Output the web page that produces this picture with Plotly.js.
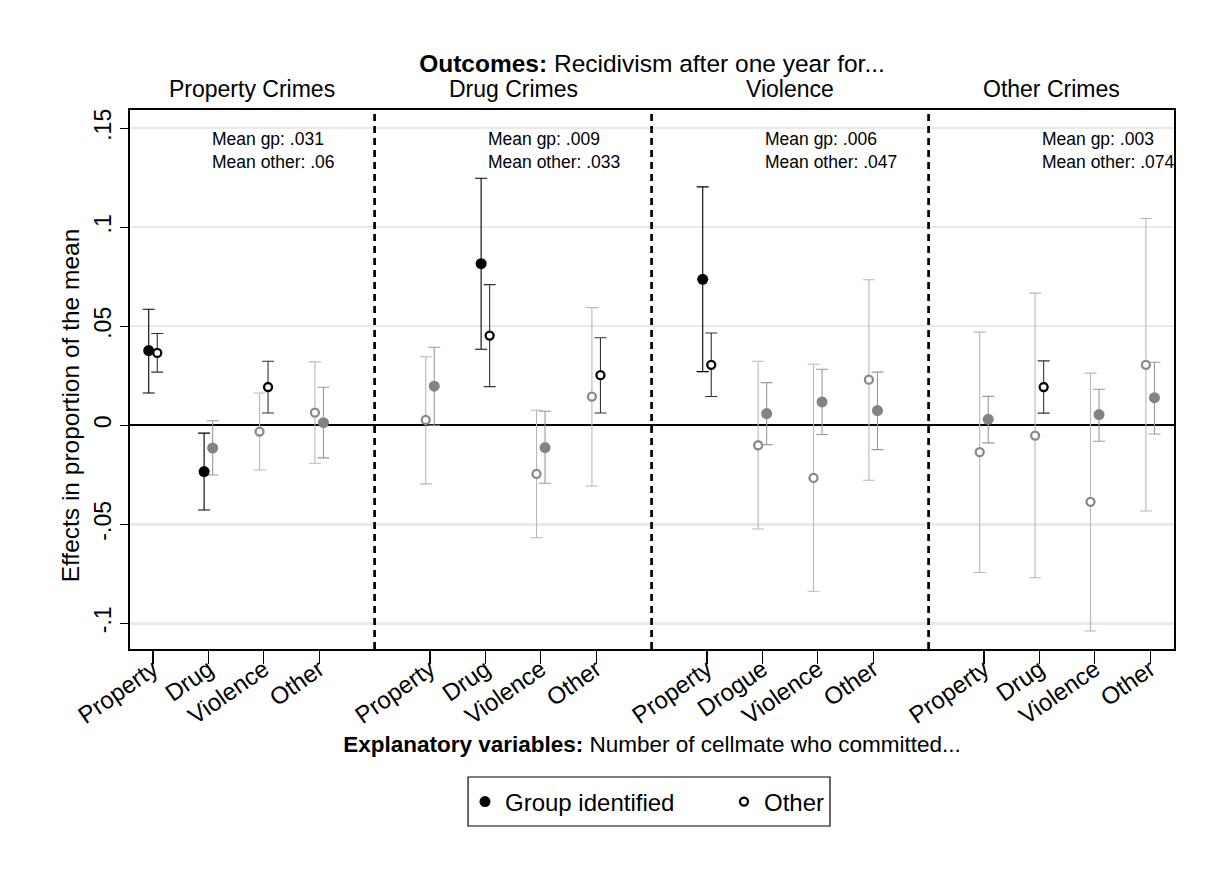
<!DOCTYPE html>
<html>
<head>
<meta charset="utf-8">
<script src="https://cdn.plot.ly/plotly-3.0.1.min.js"></script>
<style>
  html, body { margin: 0; padding: 0; background: #ffffff; }
  #chart { width: 1219px; height: 882px; }
</style>
</head>
<body>
<div id="chart"></div>
<script>
// Outcome panels and the explanatory variables inside each one
const panels = ['Property Crimes', 'Drug Crimes', 'Violence', 'Other Crimes'];
const catLabels = [
  ['Property', 'Drug', 'Violence', 'Other'],
  ['Property', 'Drug', 'Violence', 'Other'],
  ['Property', 'Drogue', 'Violence', 'Other'],
  ['Property', 'Drug', 'Violence', 'Other']
];
const meanGp = ['.031', '.009', '.006', '.003'];
const meanOther = ['.06', '.033', '.047', '.074'];

// First estimate of each pair (panel by panel, four variables each)
const firstEst = [0.0377, -0.0234, -0.0032, 0.0064,   0.0027, 0.0816, -0.0246, 0.0145,
                  0.0737, -0.0101, -0.0266, 0.0230,  -0.0136, -0.0052, -0.0387, 0.0305];
const firstLo  = [0.0163, -0.0428, -0.0226, -0.0192, -0.0296, 0.0384, -0.0568, -0.0307,
                  0.0271, -0.0524, -0.0838, -0.0278, -0.0744, -0.0770, -0.1039, -0.0433];
const firstHi  = [0.0586, -0.0040, 0.0163, 0.0320,   0.0346, 0.1247, 0.0076, 0.0594,
                  0.1204, 0.0323, 0.0308, 0.0735,    0.0470, 0.0667, 0.0263, 0.1044];
const firstGroup = ['gp', 'gp', 'oth', 'oth',  'oth', 'gp', 'oth', 'oth',
                    'gp', 'oth', 'oth', 'oth', 'oth', 'oth', 'oth', 'oth'];
const firstSig = [1, 1, 0, 0,  0, 1, 0, 0,  1, 0, 0, 0,  0, 0, 0, 0];

// Second estimate of each pair
const secondEst = [0.0365, -0.0115, 0.0193, 0.0013,  0.0197, 0.0453, -0.0113, 0.0253,
                   0.0305, 0.0059, 0.0118, 0.0074,   0.0030, 0.0193, 0.0054, 0.0139];
const secondLo  = [0.0268, -0.0251, 0.0062, -0.0165, 0.0000, 0.0195, -0.0293, 0.0062,
                   0.0145, -0.0098, -0.0047, -0.0123, -0.0089, 0.0061, -0.0081, -0.0044];
const secondHi  = [0.0463, 0.0023, 0.0323, 0.0192,   0.0394, 0.0710, 0.0071, 0.0442,
                   0.0466, 0.0215, 0.0283, 0.0268,   0.0146, 0.0325, 0.0182, 0.0318];
const secondGroup = ['oth', 'gp', 'oth', 'gp',  'gp', 'oth', 'gp', 'oth',
                     'oth', 'gp', 'gp', 'gp',   'gp', 'oth', 'gp', 'gp'];
const secondSig = [1, 0, 1, 0,  0, 1, 0, 1,  1, 0, 0, 0,  0, 1, 0, 0];

const yTickVals = [-0.1, -0.05, 0, 0.05, 0.1, 0.15];
const yTickText = ['-.1', '-.05', '0', '.05', '.1', '.15'];

// ---- layout helpers ----
const FONT = 'Liberation Sans, Arial, Helvetica, sans-serif';
const PAIR_OFFSET = 0.077;
const xRange = [0.585, 19.43];

// position of variable j in panel p on the continuous x scale
const catPos = (p, j) => p * 5 + j + 1;

const styles = {
  'gp-1':  { name: 'Group identified', legend: true,  marker: { symbol: 'circle', size: 11, color: '#000000', line: { width: 0 } }, err: '#000000' },
  'gp-0':  { name: 'gp-ns',            legend: false, marker: { symbol: 'circle', size: 11, color: '#838383', line: { width: 0 } }, err: '#9a9a9a' },
  'oth-1': { name: 'Other',            legend: true,  marker: { symbol: 'circle', size: 8, color: '#ffffff', line: { width: 2.3, color: '#000000' } }, err: '#333333' },
  'oth-0': { name: 'oth-ns',           legend: false, marker: { symbol: 'circle', size: 8, color: '#ffffff', line: { width: 2.3, color: '#8a8a8a' } }, err: '#b8b8b8' }
};

const buckets = {};
Object.keys(styles).forEach(k => buckets[k] = { x: [], y: [], plus: [], minus: [] });

function addPoint(key, x, est, lo, hi) {
  const b = buckets[key];
  b.x.push(x); b.y.push(est); b.plus.push(hi - est); b.minus.push(est - lo);
}

for (let p = 0; p < panels.length; p++) {
  for (let j = 0; j < 4; j++) {
    const i = p * 4 + j;
    const c = catPos(p, j);
    addPoint(firstGroup[i] + '-' + firstSig[i], c - PAIR_OFFSET, firstEst[i], firstLo[i], firstHi[i]);
    addPoint(secondGroup[i] + '-' + secondSig[i], c + PAIR_OFFSET, secondEst[i], secondLo[i], secondHi[i]);
  }
}

const drawOrder = ['oth-0', 'gp-0', 'oth-1', 'gp-1'];
const traces = drawOrder.map(k => ({
  type: 'scatter',
  mode: 'markers',
  name: styles[k].name,
  showlegend: styles[k].legend,
  legendrank: k === 'gp-1' ? 1 : 2,
  x: buckets[k].x,
  y: buckets[k].y,
  marker: styles[k].marker,
  error_y: {
    type: 'data', symmetric: false,
    array: buckets[k].plus, arrayminus: buckets[k].minus,
    color: styles[k].err, thickness: 1.1, width: 6
  },
  hoverinfo: 'x+y'
}));

// tick positions and labels
const tickVals = [], tickText = [];
for (let p = 0; p < panels.length; p++) {
  for (let j = 0; j < 4; j++) { tickVals.push(catPos(p, j)); tickText.push(catLabels[p][j]); }
}

// panel boundaries: halfway between the last variable of one panel and the first of the next
const bounds = [xRange[0]];
for (let p = 0; p < panels.length - 1; p++) bounds.push((catPos(p, 3) + catPos(p + 1, 0)) / 2);
bounds.push(xRange[1]);

const shapes = [];
for (let b = 1; b < bounds.length - 1; b++) {
  shapes.push({
    type: 'line', xref: 'x', yref: 'paper', x0: bounds[b], x1: bounds[b], y0: 0, y1: 1,
    line: { color: '#000000', width: 2.7, dash: '7px,5px' }, layer: 'above'
  });
}
// frame around the legend
shapes.push({
  type: 'rect', xref: 'paper', yref: 'paper',
  x0: 0.3238, x1: 0.6705, y0: -0.3284, y1: -0.2375,
  line: { color: '#000000', width: 1.2 }, fillcolor: 'rgba(0,0,0,0)', layer: 'above'
});

const annotations = [];
for (let p = 0; p < panels.length; p++) {
  annotations.push({
    text: panels[p], xref: 'x', yref: 'paper',
    x: (bounds[p] + bounds[p + 1]) / 2, y: 1.039,
    xanchor: 'center', yanchor: 'middle', showarrow: false,
    font: { family: FONT, size: 23, color: '#000000' }
  });
  annotations.push({
    text: 'Mean gp: ' + meanGp[p] + '<br>Mean other: ' + meanOther[p],
    xref: 'x', yref: 'y', x: catPos(p, 1) + 0.02, y: 0.1505,
    xanchor: 'left', yanchor: 'top', align: 'left', showarrow: false,
    font: { family: FONT, size: 17.5, color: '#000000' }
  });
}
// vertical axis title
annotations.push({
  text: 'Effects in proportion of the mean', textangle: -90,
  xref: 'paper', yref: 'paper', x: -0.0575, y: 0.452,
  xanchor: 'center', yanchor: 'middle', showarrow: false,
  font: { family: FONT, size: 24.5, color: '#000000' }
});

const layout = {
  width: 1219, height: 882,
  paper_bgcolor: '#ffffff', plot_bgcolor: '#ffffff',
  margin: { l: 130, r: 45, t: 110, b: 233 },
  font: { family: FONT, color: '#000000', size: 22 },
  title: {
    text: '<b>Outcomes:</b> Recidivism after one year for...',
    font: { family: FONT, size: 24.5, color: '#000000' },
    x: 0.5, xref: 'paper', xanchor: 'center',
    y: 1 - 63 / 882, yref: 'container', yanchor: 'middle'
  },
  xaxis: {
    range: xRange, tickmode: 'array', tickvals: tickVals, ticktext: tickText,
    tickangle: -35, ticks: 'outside', ticklen: 13, tickwidth: 1.2, tickcolor: '#000000',
    ticklabelstandoff: -18,
    tickfont: { family: FONT, size: 24, color: '#000000' },
    showgrid: false, zeroline: false,
    showline: true, mirror: true, linecolor: '#000000', linewidth: 2,
    automargin: true,
    title: {
      text: '<b>Explanatory variables:</b> Number of cellmate who committed...',
      font: { family: FONT, size: 22.5, color: '#000000' }, standoff: 8
    }
  },
  yaxis: {
    range: [-0.113, 0.1592], tickmode: 'array', tickvals: yTickVals, ticktext: yTickText,
    tickangle: -90, ticks: 'outside', ticklen: 8, tickwidth: 1.2, tickcolor: '#000000',
    tickfont: { family: FONT, size: 23, color: '#000000' },
    showgrid: true, gridcolor: '#e9e9e9', gridwidth: 2.5,
    zeroline: true, zerolinecolor: '#000000', zerolinewidth: 2,
    showline: true, mirror: true, linecolor: '#000000', linewidth: 2,
    automargin: false
  },
  showlegend: true,
  legend: {
    orientation: 'h', x: (465 - 130) / 1044, xanchor: 'left', y: -0.2839, yanchor: 'middle',
    borderwidth: 0, bgcolor: 'rgba(0,0,0,0)',
    entrywidth: 214, entrywidthmode: 'pixels',
    font: { family: FONT, size: 24, color: '#000000' },
    traceorder: 'normal'
  },
  shapes: shapes,
  annotations: annotations
};

Plotly.newPlot('chart', traces, layout, { displayModeBar: false, staticPlot: true });
</script>
</body>
</html>
